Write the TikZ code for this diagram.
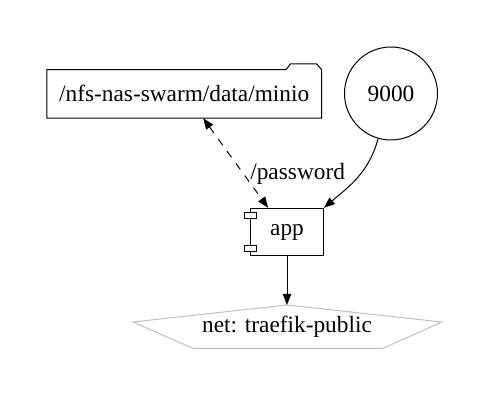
\documentclass[tikz,border=0pt]{standalone}
\usepackage{fontspec}
\setmainfont{Liberation Serif}
\usetikzlibrary{arrows.meta}

\begin{document}
\begin{tikzpicture}[x=0.6pt, y=-0.6pt, line width=0.6pt, font=\fontsize{14}{17}\selectfont,
    edge/.style = {-{Triangle[length=6.6pt,width=5pt]}},
    bind/.style = {{Triangle[length=6.6pt,width=5pt]}-{Triangle[length=6.6pt,width=5pt]}, dash pattern=on 4.5pt off 4.5pt},
    volume/.style = {minimum width=164.2pt, minimum height=28.6pt, inner sep=0pt},
    port/.style = {draw, circle, minimum size=55.8pt, inner sep=0pt},
    service/.style = {draw, minimum width=43.6pt, minimum height=28.4pt, inner sep=0pt}]
    \useasboundingbox (0,0) rectangle (489,401);

    % nodes
    \node[volume] (folder) at (184.2,93.9) {/nfs-nas-swarm/data/minio};
    \node[port] (nine) at (391,93.5) {9000};
    \node[service] (app) at (287,232) {app};
    \node (net) at (287,327) {net: traefik-public};
    \coordinate (nettop) at (287,305);

    % folder outline with tab
    \draw (folder.north east) ++(-35.3,0) coordinate (tab) -- (folder.north west) -- (folder.south west)
        -- (folder.south east) -- (folder.north east) -- ++(-5,-5.7) -- ++(-26,0) -- (tab);

    % component pins
    \draw[fill=white] (app.north west) ++(-5.7,4.7) rectangle ++(11.7,5.5);
    \draw[fill=white] (app.south west) ++(-5.7,-5) rectangle ++(11.7,-5.5);

    % network
    \draw[gray!50] (nettop) -- (441.7,322) -- (383.3,348.3) -- (192.7,348.3) -- (133,322) -- cycle;

    % edges
    \draw[bind] (folder.-52) -- (app.128) node[pos=0.62, right=0.5pt] {/password};
    \draw[edge] (nine.-106) to[out=-105, in=40] (app.north east);
    \draw[edge] (app.south) -- (nettop);
\end{tikzpicture}
\end{document}
